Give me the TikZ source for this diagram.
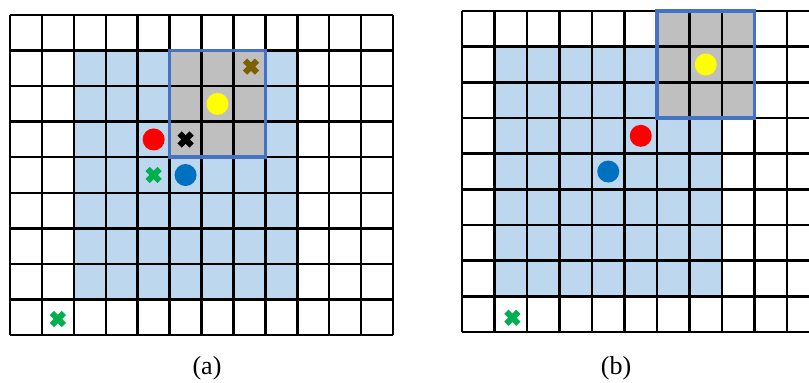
\documentclass[tikz,border=0pt]{standalone}
\usepackage{fontspec}
\setmainfont{Liberation Serif}
\definecolor{cellblue}{HTML}{BDD7EE}
\definecolor{cellgray}{HTML}{BFBFBF}
\definecolor{frameblue}{HTML}{4472C4}
\definecolor{mkgreen}{HTML}{00B050}
\definecolor{mkbrown}{HTML}{7F6000}
\definecolor{mkblue}{HTML}{0070C0}
\definecolor{mkred}{HTML}{FF0000}
\definecolor{mkyellow}{HTML}{FFFF00}
\tikzset{
  gridline/.style={black, line width=2.5pt},
  framebox/.style={draw=frameblue, line width=3.5pt},
  dot/.style={circle, minimum size=22pt, inner sep=0pt},
  captext/.style={font=\fontsize{26}{30}\selectfont, inner sep=0pt},
}
\newcommand{\xmk}[3]{%
  \coordinate (#1) at (#2);
  \draw[#3, line width=6pt] (#1) ++(-6pt,-6pt) -- ++(12pt,12pt);
  \draw[#3, line width=6pt] (#1) ++(-6pt,6pt) -- ++(12pt,-12pt);
}
\begin{document}
\begin{tikzpicture}
\useasboundingbox (0,0) rectangle (809pt,-383pt);
\clip (0,0) rectangle (809pt,-383pt);
\fill[white] (0,0) rectangle (809pt,-383pt);
% (a)
\begin{scope}[shift={(10pt,-15pt)}, x=31.92pt, y=-35.56pt]
  \fill[cellblue] (2,1) rectangle (9,8);
  \fill[cellgray] (5,1) rectangle (8,4);
  \foreach \i in {0,...,12} {\draw[gridline] (\i,0) -- (\i,9);}
  \foreach \j in {0,...,9} {\draw[gridline] (0,\j) -- (12,\j);}
  \draw[framebox] (5,1) rectangle (8,4);
  \xmk{a-brown}{7.55,1.45}{mkbrown}
  \node[dot, fill=mkyellow] (a-yellow) at (6.5,2.5) {};
  \node[dot, fill=mkred] (a-red) at (4.5,3.5) {};
  \xmk{a-black}{5.5,3.5}{black}
  \xmk{a-green1}{4.5,4.5}{mkgreen}
  \node[dot, fill=mkblue] (a-blue) at (5.5,4.5) {};
  \xmk{a-green2}{1.5,8.55}{mkgreen}
\end{scope}
% (b)
\begin{scope}[shift={(462pt,-11pt)}, x=32.5pt, y=-35.67pt]
  \fill[cellblue] (1,1) rectangle (8,8);
  \fill[cellgray] (6,0) rectangle (9,3);
  \foreach \i in {0,...,11} {\draw[gridline] (\i,0) -- (\i,9);}
  \foreach \j in {0,...,9} {\draw[gridline] (0,\j) -- (11,\j);}
  \draw[framebox] (6,0) rectangle (9,3);
  \node[dot, fill=mkyellow] (b-yellow) at (7.5,1.5) {};
  \node[dot, fill=mkred] (b-red) at (5.5,3.5) {};
  \node[dot, fill=mkblue] (b-blue) at (4.5,4.5) {};
  \xmk{b-green}{1.55,8.6}{mkgreen}
\end{scope}
\node[captext] (lab-a) at (207pt,-368pt) {(a)};
\node[captext] (lab-b) at (616pt,-368pt) {(b)};
\end{tikzpicture}
\end{document}
